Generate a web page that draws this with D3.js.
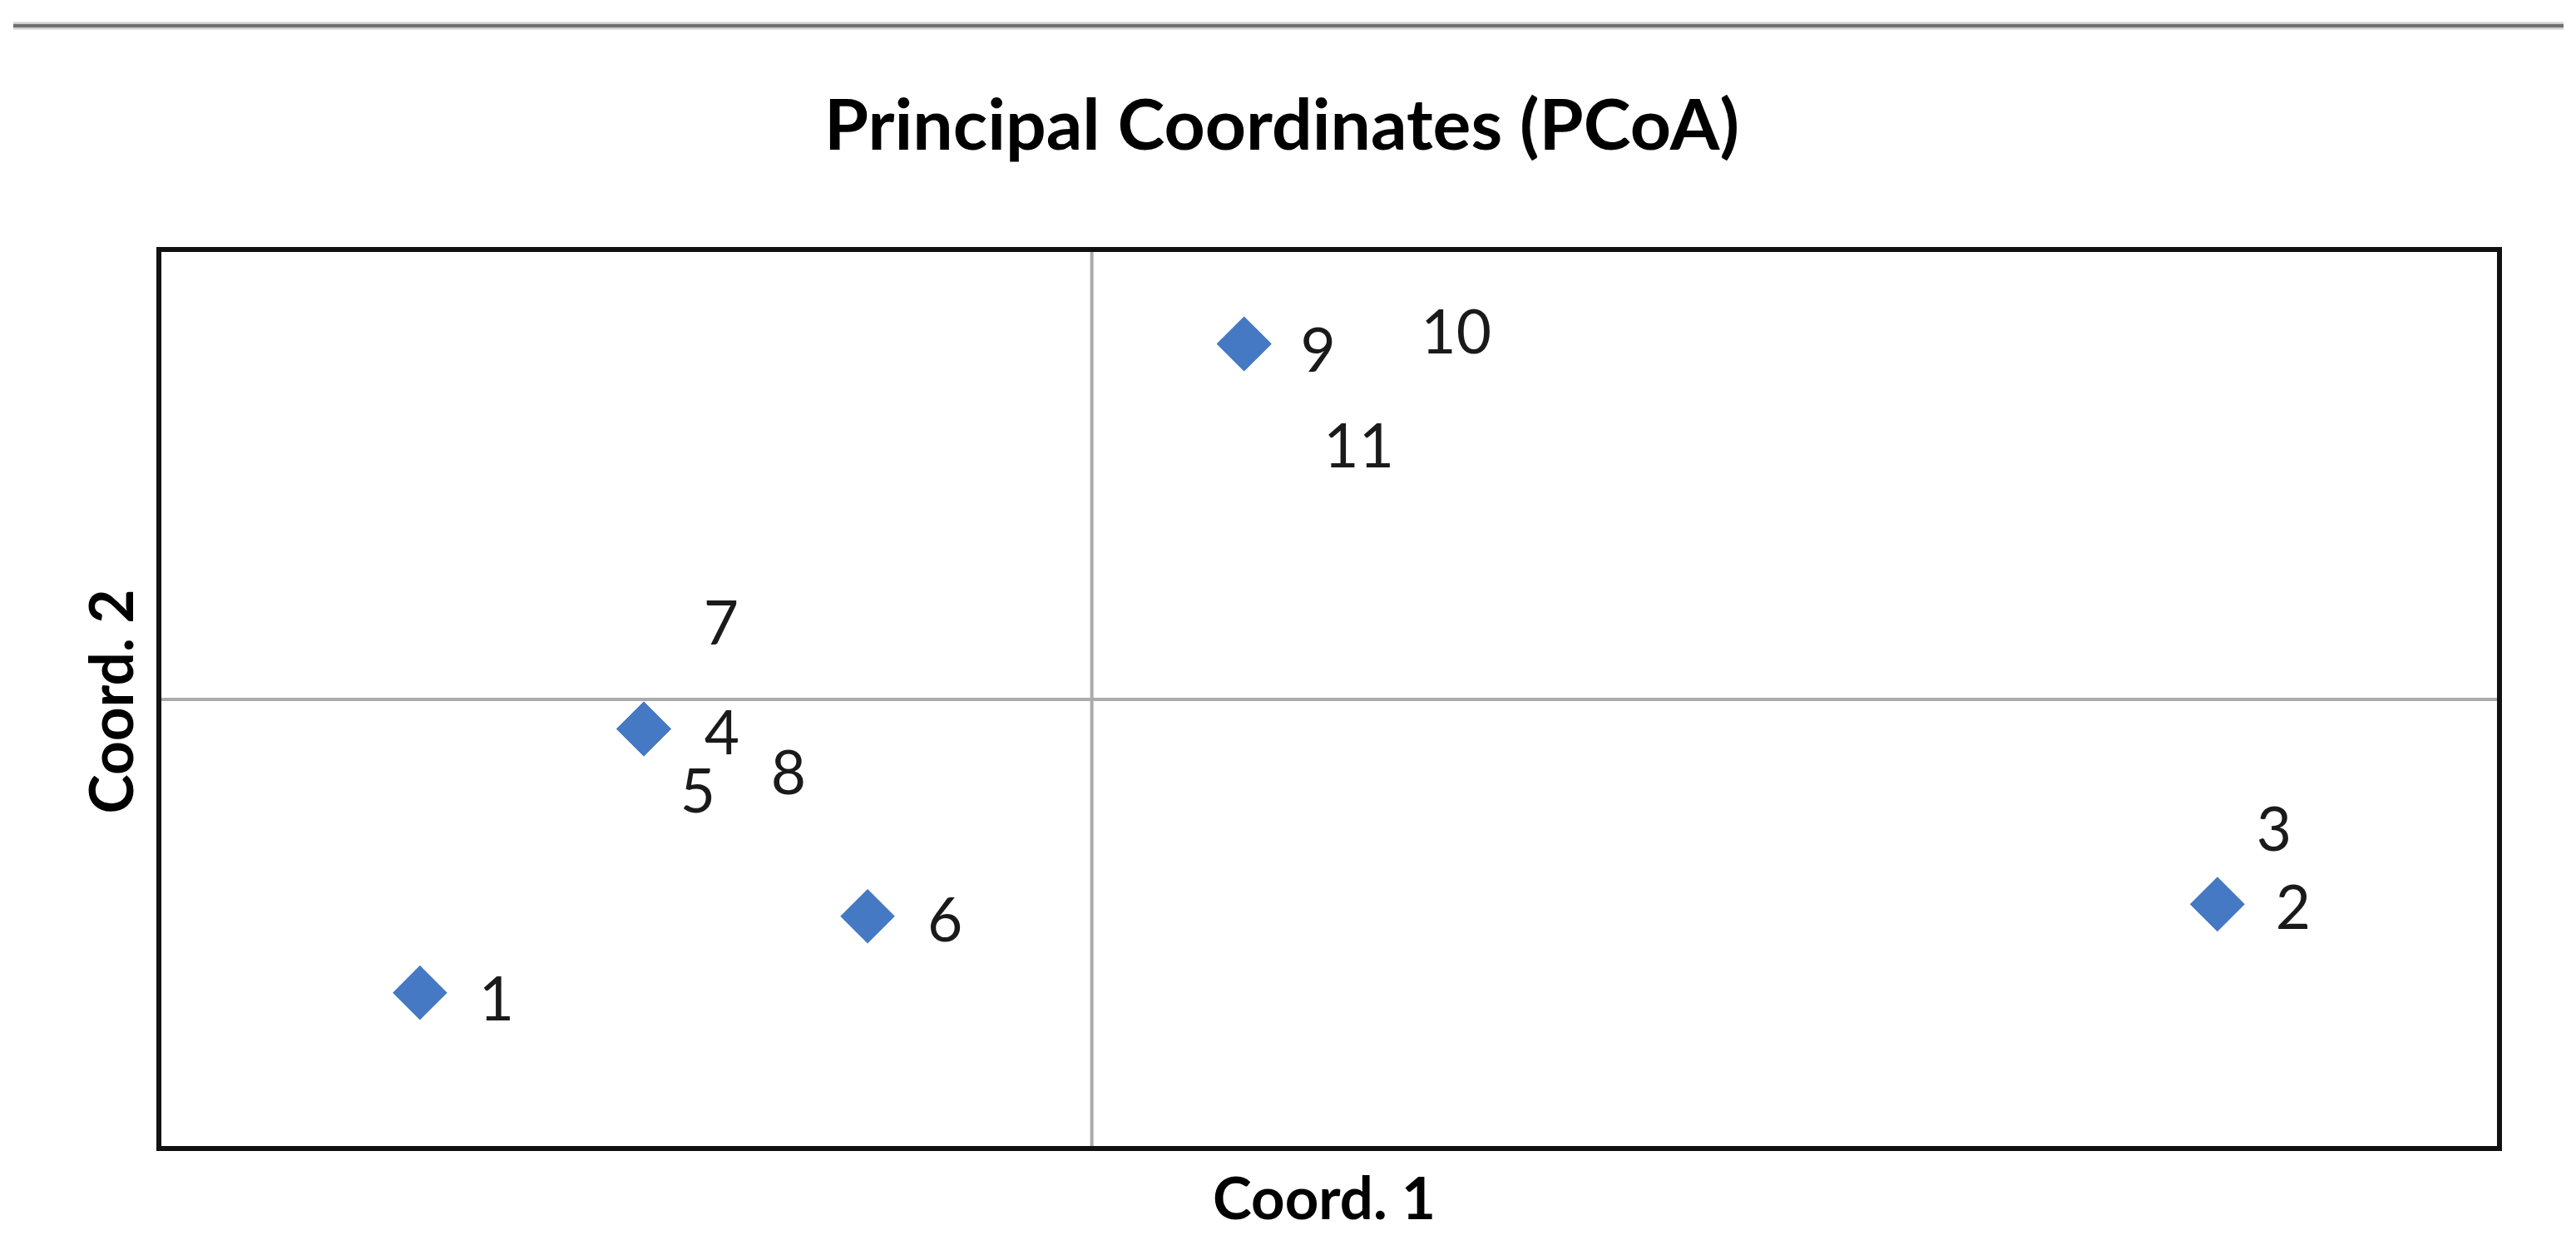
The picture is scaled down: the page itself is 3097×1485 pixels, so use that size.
<!DOCTYPE html>
<html>
<head>
<meta charset="utf-8">
<script src="https://cdn.jsdelivr.net/npm/d3@7"></script>
<style>
  html, body { margin: 0; padding: 0; background: #ffffff; }
  svg { display: block; }
</style>
</head>
<body>
<script>
// ---------------- DATA ----------------
const chartTitle = "Principal Coordinates (PCoA)";
const xAxisTitle = "Coord. 1";
const yAxisTitle = "Coord. 2";
const pointLabels = ["1", "2", "3", "4", "5", "6", "7", "8", "9", "10", "11"];
const coord1 = [-0.288, 0.483, 0.483, -0.192, -0.192, -0.096, -0.192, -0.192, 0.0655, 0.0655, 0.0655];
const coord2 = [-0.196, -0.137, -0.137, -0.020, -0.020, -0.145, -0.020, -0.020, 0.237, 0.237, 0.237];
const coord1Domain = [-0.4, 0.604];
const coord2Domain = [-0.3, 0.3];

// ---------------- LAYOUT / STYLE ----------------
const W = 3097, H = 1485;
const plot = { left: 191, right: 3005, top: 300, bottom: 1381 };
// manual data-label placement (pixels from the marker), as in the original chart
const labelOffsets = [
  [92, 33], [91, 30], [68, -64], [94, 30], [65, 100], [93, 30],
  [93, -102], [174, 78], [89, 33], [255, 11], [138, 148]
];
const markerColor = "#4679c3";
const fontFamily = "Lato, 'Open Sans', 'Noto Sans', sans-serif";

const svg = d3.select("body").append("svg")
  .attr("width", W).attr("height", H)
  .attr("viewBox", `0 0 ${W} ${H}`);

svg.append("rect").attr("width", W).attr("height", H).attr("fill", "#ffffff");

// top separator rule
svg.append("line")
  .attr("x1", 16).attr("x2", 3082).attr("y1", 31).attr("y2", 31)
  .attr("stroke", "#cfcfcf").attr("stroke-width", 9);
svg.append("line")
  .attr("x1", 16).attr("x2", 3082).attr("y1", 31).attr("y2", 31)
  .attr("stroke", "#707070").attr("stroke-width", 4);

const x = d3.scaleLinear().domain(coord1Domain).range([plot.left, plot.right]);
const y = d3.scaleLinear().domain(coord2Domain).range([plot.bottom, plot.top]);

function fitWidth(sel, target) {
  sel.attr("textLength", target).attr("lengthAdjust", "spacingAndGlyphs");
}

// title
const title = svg.append("text")
  .attr("x", 1541).attr("y", 180)
  .attr("text-anchor", "middle")
  .attr("font-family", fontFamily).attr("font-weight", "bold")
  .attr("font-size", 84).attr("fill", "#000")
  .text(chartTitle);
fitWidth(title, 1100);

// axis lines crossing at zero
const gx = svg.append("g")
  .attr("transform", `translate(0,${y(0)})`)
  .call(d3.axisBottom(x).tickValues([]).tickSizeOuter(0));
const gy = svg.append("g")
  .attr("transform", `translate(${x(0)},0)`)
  .call(d3.axisLeft(y).tickValues([]).tickSizeOuter(0));
[gx, gy].forEach(g => g.select(".domain")
  .attr("stroke", "#ababab").attr("stroke-width", 4));

// plot frame
svg.append("rect")
  .attr("x", plot.left).attr("y", plot.top)
  .attr("width", plot.right - plot.left).attr("height", plot.bottom - plot.top)
  .attr("fill", "none").attr("stroke", "#111").attr("stroke-width", 6);

// points
const points = pointLabels.map((lab, i) => ({ lab, cx: coord1[i], cy: coord2[i], off: labelOffsets[i] }));

const diamond = d3.symbol().type(d3.symbolSquare).size(2150);
svg.append("g").selectAll("path")
  .data(points)
  .join("path")
  .attr("d", diamond)
  .attr("transform", d => `translate(${x(d.cx)},${y(d.cy)}) rotate(45)`)
  .attr("fill", markerColor);

svg.append("g").selectAll("text")
  .data(points)
  .join("text")
  .attr("x", d => x(d.cx) + d.off[0])
  .attr("y", d => y(d.cy) + d.off[1])
  .attr("text-anchor", "middle")
  .attr("font-family", fontFamily)
  .attr("font-size", 73)
  .attr("fill", "#1a1a1a")
  .text(d => d.lab);

// axis titles
const xt = svg.append("text")
  .attr("x", (plot.left + plot.right) / 2 - 6).attr("y", 1466)
  .attr("text-anchor", "middle")
  .attr("font-family", fontFamily).attr("font-weight", "bold")
  .attr("font-size", 70).attr("fill", "#000")
  .text(xAxisTitle);
fitWidth(xt, 268);

const yt = svg.append("text")
  .attr("transform", `translate(160,${(plot.top + plot.bottom) / 2 + 3}) rotate(-90)`)
  .attr("text-anchor", "middle")
  .attr("font-family", fontFamily).attr("font-weight", "bold")
  .attr("font-size", 72).attr("fill", "#000")
  .text(yAxisTitle);
fitWidth(yt, 270);
</script>
</body>
</html>
